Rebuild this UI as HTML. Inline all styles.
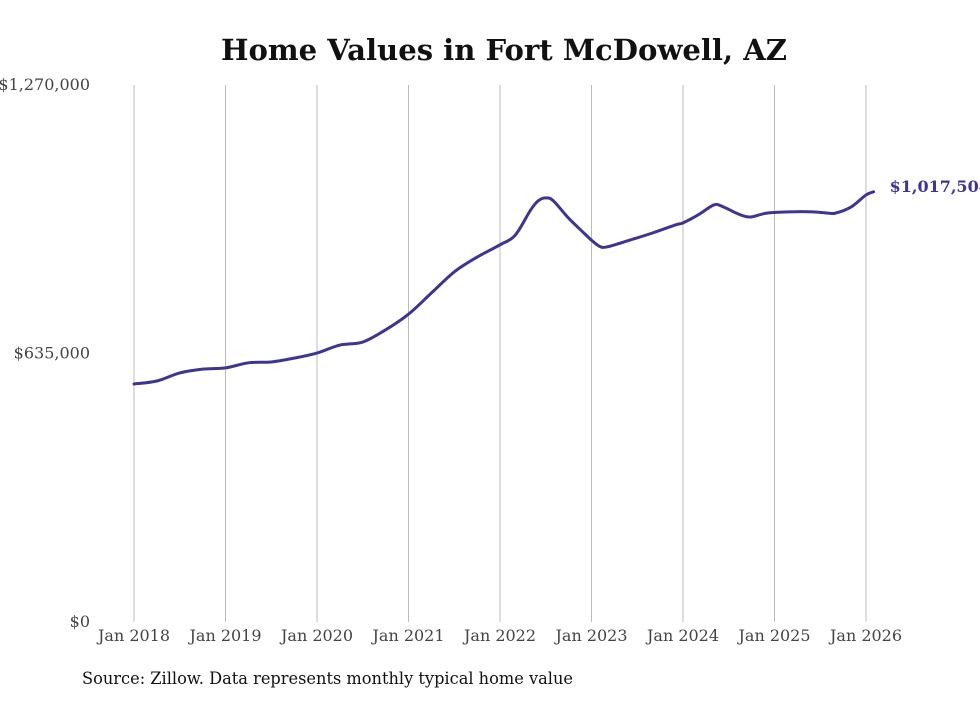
<!DOCTYPE html>
<html><head><meta charset="utf-8"><style>
html,body{margin:0;padding:0;background:#fff;}
svg text{font-family:"DejaVu Serif","Liberation Serif",serif;}
</style></head><body>
<svg id="chart" width="980" height="699" xmlns="http://www.w3.org/2000/svg">
<text x="504" y="60" text-anchor="middle" font-size="29" font-weight="bold" fill="#111" textLength="566" lengthAdjust="spacingAndGlyphs">Home Values in Fort McDowell, AZ</text>
<g id="grid"></g><g id="yt"></g><g id="xt"></g><g id="ln"></g>
<text x="82" y="684" font-size="17" fill="#111" textLength="491" lengthAdjust="spacingAndGlyphs">Source: Zillow. Data represents monthly typical home value</text>
</svg>
<script>
const months=[0,3,6,9,12,15,18,21,24,27,30,33,36,39,42,45,48,50,52,53,54,55,57,59,60,61,62,65,68,71,72,74,76,77,79,80,81,83,86,89,91,92,94,96,97];
const values=[562900,570000,589000,598000,601000,613000,615000,624000,636000,655000,662000,691000,728000,778000,828000,863000,892000,915000,974000,996000,1003000,996000,955000,920000,903000,889000,887000,903000,920000,939000,944000,963000,986000,984000,967000,960000,958000,967000,970000,970000,967000,967000,981000,1010000,1017504];
const yTicks=[0,635000,1270000];
const yTickLabels=["$0","$635,000","$1,270,000"];
const xYears=[2018,2019,2020,2021,2022,2023,2024,2025,2026];
const lastLabel="$1,017,504";
const NS="http://www.w3.org/2000/svg";
const x0=134,pxPerYear=91.5,yTop=85,yBot=622,yMax=1270000;
const X=m=>x0+m*pxPerYear/12, Y=v=>yBot-(v/yMax)*(yBot-yTop);
function mk(t,a,p){const e=document.createElementNS(NS,t);for(const k in a)e.setAttribute(k,a[k]);document.getElementById(p).appendChild(e);return e;}
xYears.forEach((yr,i)=>{const x=X(i*12);
const g=mk('line',{x1:x,x2:x,y1:yTop,y2:yBot,stroke:'#bbb','stroke-width':1},'grid');


const t=mk('text',{x:x,y:641,'text-anchor':'middle','font-size':16,fill:'#444',textLength:72,lengthAdjust:'spacingAndGlyphs'},'xt');t.textContent='Jan '+yr;

});
yTicks.forEach((v,i)=>{const t=mk('text',{x:90,y:Y(v)+5,'text-anchor':'end','font-size':16,fill:'#444'},'yt');t.textContent=yTickLabels[i];

});
const pts=months.map((m,i)=>[X(m),Y(values[i])]);
let d='M'+pts[0][0]+','+pts[0][1];
for(let i=0;i<pts.length-1;i++){const p0=pts[i-1]||pts[i],p1=pts[i],p2=pts[i+1],p3=pts[i+2]||p2;
d+=` C${p1[0]+(p2[0]-p0[0])/6},${p1[1]+(p2[1]-p0[1])/6} ${p2[0]-(p3[0]-p1[0])/6},${p2[1]-(p3[1]-p1[1])/6} ${p2[0]},${p2[1]}`;}
const path=mk('path',{d:d,fill:'none',stroke:'#3d3591','stroke-width':3,'stroke-linejoin':'round','stroke-linecap':'round'},'ln');


const lp=pts[pts.length-1];
const lt=mk('text',{x:lp[0]+16,y:lp[1],'font-size':16,'font-weight':'bold',fill:'#3d3591'},'ln');lt.textContent=lastLabel;


</script>
</body></html>
